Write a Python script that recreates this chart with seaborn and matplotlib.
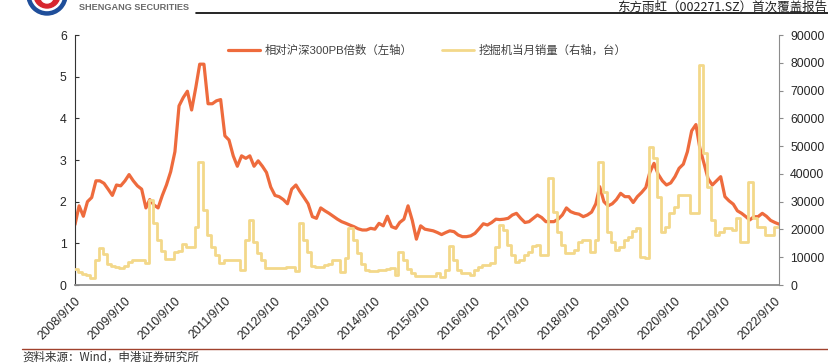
import matplotlib
matplotlib.use("Agg")
import matplotlib.pyplot as plt
import matplotlib.patches as mpatches
import numpy as np
import pandas as pd
import seaborn as sns

# 相对沪深300PB倍数，月度读数（2008/9 起）
pb_values = [
    1.45, 1.90, 1.65, 2.00, 2.10, 2.50, 2.50, 2.44, 2.30, 2.15, 2.40, 2.38,
    2.50, 2.65, 2.50, 2.38, 2.30, 1.85, 2.05, 1.92, 1.85, 2.15, 2.40, 2.72,
    3.20, 4.30, 4.50, 4.65, 4.20, 4.75, 5.30, 5.30, 4.35, 4.35, 4.42, 4.45,
    3.58, 3.48, 3.10, 2.85, 3.10, 3.04, 3.10, 2.85, 2.98, 2.85, 2.70, 2.35,
    2.15, 2.12, 2.05, 1.95, 2.30, 2.40, 2.25, 2.10, 1.95, 1.64, 1.60, 1.85,
    1.78, 1.72, 1.65, 1.58, 1.52, 1.48, 1.44, 1.40, 1.35, 1.32, 1.32, 1.36,
    1.34, 1.48, 1.42, 1.65, 1.40, 1.36, 1.50, 1.58, 1.90, 1.55, 1.10, 1.42,
    1.34, 1.32, 1.30, 1.26, 1.21, 1.26, 1.30, 1.28, 1.20, 1.16, 1.16, 1.18,
    1.24, 1.35, 1.47, 1.44, 1.50, 1.58, 1.57, 1.58, 1.60, 1.68, 1.72, 1.60,
    1.50, 1.52, 1.60, 1.68, 1.62, 1.52, 1.52, 1.52, 1.58, 1.68, 1.85, 1.76,
    1.72, 1.70, 1.64, 1.68, 1.75, 1.95, 2.36, 2.00, 1.90, 1.95, 2.05, 2.20,
    2.12, 2.12, 1.98, 2.12, 2.22, 2.34, 2.70, 2.92, 2.66, 2.50, 2.40, 2.45,
    2.60, 2.80, 2.90, 3.20, 3.70, 3.85, 3.30, 2.92, 2.55, 2.40, 2.50, 2.60,
    2.12, 2.02, 1.94, 1.78, 1.72, 1.64, 1.56, 1.64, 1.64, 1.72, 1.65, 1.55,
    1.50, 1.46,
]

# 挖掘机当月销量（台），2008/9 起
excavator_sales = [
    5640, 4800, 3800, 3600, 2400, 9000, 13200, 11000, 7600, 6800, 6600, 6000,
    7000, 8400, 9000, 9000, 9000, 8000, 30600, 22400, 16200, 12400, 9200, 9200,
    12000, 12400, 14800, 13800, 13800, 21000, 44400, 27000, 18000, 13800, 10800, 8000,
    9000, 9000, 9000, 9000, 5400, 16200, 23400, 15600, 11400, 9000, 6000, 6000,
    6000, 6000, 6000, 6600, 6600, 5200, 22200, 16200, 12000, 6800, 6600, 6600,
    7200, 7600, 9000, 9000, 4800, 9600, 20400, 16200, 11400, 7600, 5400, 5200,
    5200, 5400, 5400, 5600, 6000, 3600, 11800, 9000, 5600, 4200, 3200, 3200,
    3300, 3300, 3400, 4200, 3000, 5400, 14000, 9000, 5400, 4200, 4200, 3600,
    5400, 6600, 7200, 7200, 8000, 13800, 21600, 19800, 14400, 10800, 8400, 9000,
    10800, 12000, 14000, 14400, 10800, 10800, 38400, 26400, 19200, 14400, 11400, 11400,
    12600, 15600, 16200, 16200, 12000, 16200, 44400, 33600, 19200, 15600, 12600, 13800,
    16200, 17400, 19600, 20400, 10200, 9600, 49600, 45600, 31800, 19200, 21000, 25800,
    28200, 32400, 32400, 32400, 25800, 25800, 79200, 47400, 35400, 23400, 18000, 19200,
    20400, 20400, 19800, 24000, 15600, 15600, 37200, 24000, 21000, 21000, 18000, 18000,
    21000, 21000,
]

tick_years = list(range(2008, 2023))
tick_labels = [f"{y}/9/10" for y in tick_years]

PB_LABEL = "相对沪深300PB倍数（左轴）"
SALES_LABEL = "挖掘机当月销量（右轴，台）"
TITLE = "东方雨虹（002271.SZ）首次覆盖报告"
SOURCE = "资料来源：Wind，申港证券研究所"

RED = "#EE6B3D"
YELLOW = "#F3D88A"
W, H = 829, 363


def build_frames():
    pb_df = pd.DataFrame({
        "date": pd.date_range("2008-09-10", periods=len(pb_values), freq=pd.DateOffset(months=1)),
        "pb": pb_values,
    })
    sales_df = pd.DataFrame({
        "date": pd.date_range("2008-09-01", periods=len(excavator_sales), freq="MS"),
        "sales": excavator_sales,
    })
    return pb_df, sales_df


def draw_header_footer(fig):
    deco = fig.add_axes([0, 0, 1, 1], zorder=-1)
    deco.set_xlim(0, W)
    deco.set_ylim(H, 0)
    deco.axis("off")

    # 公司标志（仅露出下半部分）
    deco.add_patch(mpatches.Circle((47, -5), 20, color="#1F4E9A", clip_on=False))
    deco.add_patch(mpatches.Circle((47, -5), 15.5, color="white", clip_on=False))
    deco.add_patch(mpatches.Circle((47, -5), 13, color="#D7262E", clip_on=False))
    deco.add_patch(mpatches.Circle((47, -3), 6, color="white", clip_on=False))

    deco.text(79, 7, "SHENGANG SECURITIES", fontsize=6.6, fontweight="bold",
              color="#6A6A6A", va="center", ha="left", family=["Liberation Sans"])
    deco.plot([196, W], [12.5, 12.5], color="black", lw=1.2)
    deco.text(W - 2, 10.5, TITLE, fontsize=9, color="#222222", ha="right", va="baseline",
              family=["Noto Sans CJK SC", "DejaVu Sans"])

    deco.plot([22, W], [349, 349], color="#A0412D", lw=1.0)
    deco.text(22, 351, SOURCE, fontsize=8.3, color="#333333", ha="left", va="top",
              style="italic", family=["Noto Sans CJK SC", "DejaVu Sans"])


def plot_chart(pb_df, sales_df):
    sns.set_style("white")
    plt.rcParams["font.family"] = ["Liberation Sans", "Noto Sans CJK SC", "DejaVu Sans"]

    fig = plt.figure(figsize=(W / 100, H / 100), dpi=100)
    ax = fig.add_axes([75 / W, 1 - 285 / H, (779 - 75) / W, 250 / H])
    ax2 = ax.twinx()

    sns.lineplot(data=pb_df, x="date", y="pb", ax=ax, color=RED, lw=2.3, legend=False)
    sns.lineplot(data=sales_df, x="date", y="sales", ax=ax2, color=YELLOW, lw=2.0,
                 drawstyle="steps-post", legend=False)

    ax.set_xlim(pd.Timestamp("2008-09-10"), pd.Timestamp("2022-10-10"))
    ax.set_ylim(0, 6)
    ax2.set_ylim(0, 90000)
    ax.set_yticks(range(0, 7))
    ax2.set_yticks(range(0, 90001, 10000))

    ax.set_xticks([pd.Timestamp(f"{y}-09-10") for y in tick_years])
    ax.set_xticklabels(tick_labels, rotation=45, ha="right", va="top", rotation_mode="anchor")
    ax.set_xlabel("")
    ax.set_ylabel("")
    ax2.set_ylabel("")

    for a in (ax, ax2):
        a.spines["top"].set_visible(False)
    ax.spines["left"].set_color("#333333")
    ax.spines["bottom"].set_color("#8C8C8C")
    ax.spines["bottom"].set_linewidth(1.3)
    ax.spines["right"].set_visible(False)
    ax2.spines["left"].set_visible(False)
    ax2.spines["bottom"].set_visible(False)
    ax2.spines["right"].set_color("#8C8C8C")

    ax.tick_params(axis="x", direction="in", length=4, width=0.8, color="#555555",
                   labelsize=8.8, pad=7)
    ax.tick_params(axis="y", direction="in", length=3, width=0.8, color="#333333",
                   labelsize=8.8, pad=6)
    ax2.tick_params(axis="y", direction="out", length=3, width=0.8, color="#8C8C8C",
                    labelsize=8.8, pad=5)

    handles = [ax.get_lines()[0], ax2.get_lines()[0]]
    ax2.legend(handles, [PB_LABEL, SALES_LABEL], loc="upper center",
               bbox_to_anchor=(0.5, 0.99), ncol=2, frameon=False, fontsize=8.2,
               handlelength=2.8, handletextpad=0.4, columnspacing=2.6,
               labelcolor="#404040", borderaxespad=0.2)

    draw_header_footer(fig)
    fig.savefig("out.png", dpi=100)


def main():
    pb_df, sales_df = build_frames()
    plot_chart(pb_df, sales_df)


if __name__ == "__main__":
    main()
